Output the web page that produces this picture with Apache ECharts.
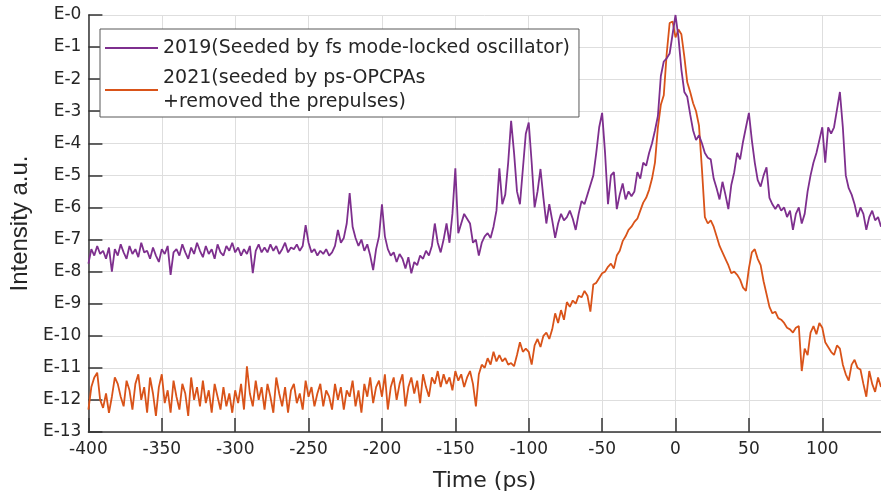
<!DOCTYPE html>
<html>
<head>
<meta charset="utf-8">
<script src="https://cdn.jsdelivr.net/npm/echarts@6/dist/echarts.min.js"></script>
<style>
    html, body { margin: 0; padding: 0; background: #fff; }
    #chart { width: 881px; height: 498px; }
</style>
</head>
<body>
<div id="chart"></div>
<script>
    // time axis: -400 ps .. 140 ps, one sample every 2 ps
    const tStart = -400;
    const tStep = 2;

    // log10 intensity
    const contrast2019 = [
        -7.75,-7.3,-7.5,-7.2,-7.45,-7.35,-7.6,-7.25,-8.0,-7.3,
        -7.5,-7.15,-7.4,-7.6,-7.2,-7.45,-7.3,-7.55,-7.1,-7.4,
        -7.35,-7.6,-7.25,-7.5,-7.7,-7.3,-7.45,-7.2,-8.1,-7.4,
        -7.3,-7.5,-7.15,-7.4,-7.6,-7.25,-7.45,-7.1,-7.35,-7.55,
        -7.2,-7.45,-7.3,-7.6,-7.15,-7.4,-7.5,-7.2,-7.35,-7.1,
        -7.4,-7.25,-7.5,-7.3,-7.45,-7.2,-8.05,-7.35,-7.15,-7.4,
        -7.25,-7.4,-7.15,-7.35,-7.2,-7.45,-7.3,-7.1,-7.4,-7.25,
        -7.3,-7.15,-7.35,-7.2,-6.55,-7.1,-7.4,-7.3,-7.5,-7.35,
        -7.45,-7.3,-7.5,-7.4,-7.2,-6.7,-7.1,-6.95,-6.5,-5.55,
        -6.6,-6.95,-7.2,-7.0,-7.35,-7.15,-7.5,-7.95,-7.3,-6.9,
        -5.9,-6.9,-7.3,-7.5,-7.4,-7.7,-7.45,-7.6,-7.9,-7.55,
        -8.05,-7.7,-7.8,-7.5,-7.6,-7.35,-7.5,-7.2,-6.5,-7.1,
        -7.4,-7.0,-6.5,-7.1,-6.2,-4.78,-6.8,-6.5,-6.2,-6.35,
        -6.5,-7.1,-7.0,-7.5,-7.1,-6.9,-6.8,-6.95,-6.6,-6.1,
        -4.78,-5.9,-5.6,-4.6,-3.3,-4.3,-5.5,-5.9,-4.8,-3.7,
        -3.35,-4.6,-6.0,-5.5,-4.8,-5.7,-6.5,-5.9,-6.4,-6.95,
        -6.5,-6.2,-6.4,-6.3,-6.1,-6.35,-6.7,-6.2,-5.8,-5.9,
        -5.6,-5.3,-5.0,-4.3,-3.5,-3.05,-4.3,-5.9,-5.0,-4.9,
        -6.05,-5.6,-5.25,-5.75,-5.5,-5.65,-5.5,-4.9,-5.1,-4.6,
        -4.7,-4.3,-4.0,-3.6,-3.15,-1.9,-1.45,-1.35,-1.2,-0.6,
        0,-0.7,-1.7,-2.4,-2.55,-3.1,-3.6,-3.9,-3.75,-4.0,
        -4.3,-4.45,-4.5,-5.1,-5.4,-5.75,-5.2,-5.6,-6.05,-5.3,
        -4.9,-4.3,-4.5,-3.95,-3.5,-3.05,-3.9,-4.6,-5.15,-5.35,
        -5.0,-4.75,-5.7,-5.9,-6.05,-5.9,-6.1,-6.0,-6.3,-6.1,
        -6.7,-6.2,-6.0,-6.5,-6.2,-5.5,-5.0,-4.6,-4.3,-3.9,
        -3.5,-4.6,-3.5,-3.7,-3.5,-2.95,-2.4,-3.5,-5.0,-5.4,
        -5.6,-5.9,-6.3,-6.0,-6.2,-6.7,-6.3,-6.1,-6.4,-6.3,
        -6.6
    ];

    const contrast2021 = [
        -12.3,-11.6,-11.3,-11.15,-12.0,-12.25,-11.8,-12.4,-11.9,-11.3,
        -11.5,-11.9,-12.2,-11.4,-11.7,-12.3,-11.5,-11.2,-12.0,-11.6,
        -12.4,-11.3,-11.8,-12.5,-11.6,-11.2,-12.1,-11.7,-12.4,-11.4,
        -11.9,-12.3,-11.5,-11.8,-12.5,-11.3,-12.0,-11.6,-12.2,-11.4,
        -12.1,-11.7,-12.4,-11.5,-11.9,-12.3,-11.6,-12.2,-11.8,-12.4,
        -11.7,-12.1,-11.5,-12.3,-10.95,-11.8,-12.2,-11.4,-12.0,-11.6,
        -12.3,-11.5,-11.9,-12.4,-11.3,-11.8,-12.2,-11.6,-12.4,-11.7,
        -11.5,-12.1,-11.8,-12.3,-11.4,-11.9,-11.6,-12.2,-11.8,-11.5,
        -12.2,-11.7,-11.9,-12.3,-11.5,-12.0,-11.6,-12.3,-11.7,-11.9,
        -11.4,-12.2,-11.7,-12.4,-11.5,-11.9,-11.3,-12.1,-11.6,-11.4,
        -11.9,-11.2,-12.3,-11.6,-11.3,-12.0,-11.5,-11.2,-12.2,-11.6,
        -11.3,-11.8,-11.4,-12.1,-11.2,-11.6,-11.9,-11.3,-11.5,-11.1,
        -11.6,-11.2,-11.5,-11.3,-11.7,-11.1,-11.4,-11.2,-11.6,-11.3,
        -11.1,-11.5,-12.2,-11.2,-10.9,-11.0,-10.7,-10.9,-10.5,-10.8,
        -10.6,-10.8,-10.7,-10.9,-10.85,-10.95,-10.6,-10.2,-10.5,-10.4,
        -10.5,-10.9,-10.3,-10.1,-10.35,-10.0,-9.9,-10.1,-9.8,-9.3,
        -9.6,-9.2,-9.5,-8.95,-9.1,-8.9,-9.0,-8.75,-8.8,-8.6,
        -8.75,-9.25,-8.4,-8.35,-8.2,-8.05,-8.0,-7.85,-7.75,-7.9,
        -7.5,-7.35,-7.05,-6.9,-6.7,-6.6,-6.45,-6.35,-6.1,-5.85,
        -5.7,-5.45,-5.1,-4.6,-3.5,-2.8,-2.5,-1.2,-0.25,-0.2,
        -0.7,-0.45,-0.6,-1.3,-2.1,-2.4,-2.75,-3.0,-3.45,-4.8,
        -6.3,-6.5,-6.4,-6.6,-6.9,-7.2,-7.4,-7.6,-7.8,-8.05,
        -8.0,-8.1,-8.25,-8.5,-8.6,-7.9,-7.4,-7.3,-7.6,-7.8,
        -8.3,-8.7,-9.1,-9.3,-9.25,-9.45,-9.5,-9.6,-9.75,-9.8,
        -9.9,-9.75,-9.7,-11.1,-10.4,-10.6,-9.9,-9.7,-9.95,-9.6,
        -9.75,-10.2,-10.35,-10.5,-10.6,-10.3,-10.4,-10.9,-11.2,-11.4,
        -10.9,-10.75,-11.0,-11.05,-11.5,-11.9,-11.1,-11.5,-11.75,-11.3,
        -11.6
    ];

    const seriesNames = [
        '2019(Seeded by fs mode-locked oscillator)',
        '2021(seeded by ps-OPCPAs\n+removed the prepulses)'
    ];

    function toPairs(arr) {
        return arr.map((v, i) => [tStart + i * tStep, v]);
    }

    const wideFont = '"DejaVu Sans", Verdana, sans-serif';
    const narrowFont = 'Arial, "Liberation Sans", Helvetica, sans-serif';
    const textColor = '#262626';
    const myChart = echarts.init(document.getElementById('chart'));
    const options = {
        animation: false,
        textStyle: { fontFamily: wideFont, color: textColor },
        grid: {
            left: 86,
            right: 0,
            top: 15,
            bottom: 66
        },
        legend: {
            orient: 'vertical',
            left: 100,
            top: 29,
            padding: [7, 9, 3, 5],
            itemGap: 6,
            itemWidth: 53,
            itemHeight: 2,
            backgroundColor: '#fff',
            borderColor: '#595959',
            borderWidth: 1,
            textStyle: {
                fontFamily: wideFont,
                fontSize: 19,
                lineHeight: 24,
                color: textColor
            },
            data: seriesNames.map(n => ({ name: n, icon: 'rect' }))
        },
        xAxis: {
            type: 'value',
            min: -400,
            max: 140,
            interval: 50,
            name: 'Time (ps)',
            nameLocation: 'middle',
            nameGap: 38,
            nameTextStyle: { fontSize: 22, color: textColor, fontFamily: wideFont },
            axisLine: { show: true, onZero: false, lineStyle: { color: '#333', width: 1.5 } },
            axisTick: { show: true, inside: true, length: 14, lineStyle: { color: '#333', width: 1.5 } },
            axisLabel: {
                fontSize: 17,
                fontFamily: wideFont,
                color: textColor,
                margin: 9,
                showMaxLabel: false
            },
            splitLine: { show: true, lineStyle: { color: '#dedede', width: 1 } }
        },
        yAxis: {
            type: 'value',
            min: -13,
            max: 0,
            interval: 1,
            name: 'Intensity a.u.',
            nameLocation: 'middle',
            nameGap: 52,
            nameTextStyle: { fontSize: 24, color: textColor, fontFamily: narrowFont },
            axisLine: { show: true, onZero: false, lineStyle: { color: '#333', width: 1.5 } },
            axisTick: { show: true, inside: true, length: 14, lineStyle: { color: '#333', width: 1.5 } },
            axisLabel: {
                fontSize: 17,
                fontFamily: wideFont,
                color: textColor,
                margin: 7,
                formatter: v => 'E-' + Math.abs(v)
            },
            splitLine: { show: true, lineStyle: { color: '#dedede', width: 1 } }
        },
        series: [
            {
                name: seriesNames[0],
                type: 'line',
                symbol: 'none',
                z: 3,
                lineStyle: { color: '#7E2F8E', width: 1.8 },
                itemStyle: { color: '#7E2F8E' },
                data: toPairs(contrast2019)
            },
            {
                name: seriesNames[1],
                type: 'line',
                symbol: 'none',
                z: 2,
                lineStyle: { color: '#D95319', width: 1.8 },
                itemStyle: { color: '#D95319' },
                data: toPairs(contrast2021)
            }
        ]
    };
    myChart.setOption(options);
</script>
</body>
</html>
